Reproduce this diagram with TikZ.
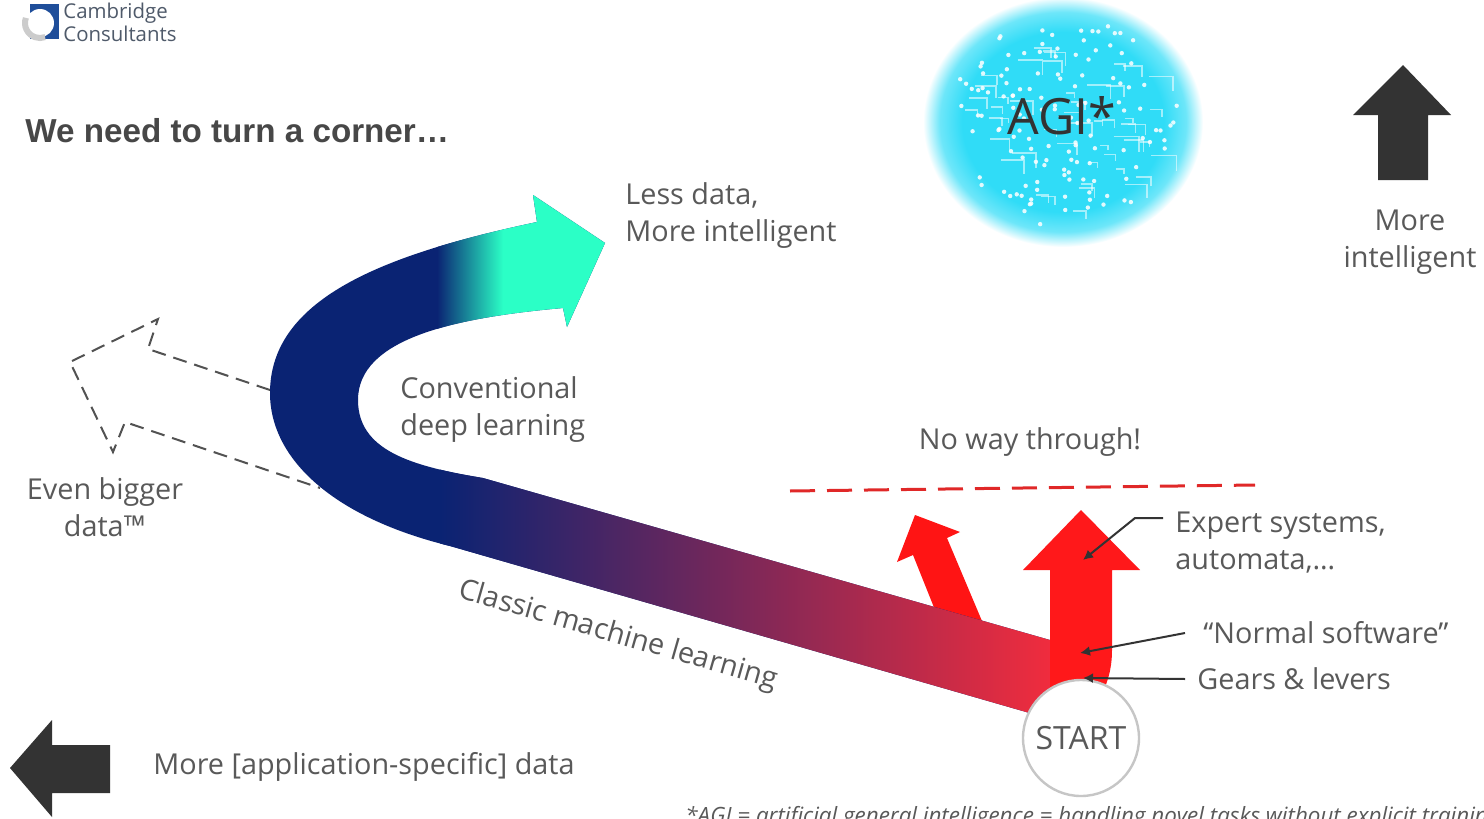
\documentclass[tikz,border=0pt]{standalone}
\usepackage{fontspec}
\setmainfont{Open Sans}
\newfontfamily\headfont{Liberation Sans}
\usetikzlibrary{arrows.meta,calc,positioning}
\definecolor{txt}{HTML}{595959}
\definecolor{ink}{HTML}{333333}
\definecolor{navy}{HTML}{0A2373}
\definecolor{mauve}{HTML}{6E2A63}
\definecolor{rose}{HTML}{FF2D3A}
\definecolor{aqua}{HTML}{2BFFC6}
\definecolor{hot}{HTML}{FF1414}
\definecolor{nogo}{HTML}{E02828}
\definecolor{agicyan}{HTML}{30DCF7}
\definecolor{logob}{HTML}{1F4E9A}
\definecolor{logot}{HTML}{4F5A6A}
\pgfdeclareradialshading{agiglow}{\pgfpoint{0bp}{0bp}}{color(0bp)=(agicyan); color(18bp)=(agicyan); color(22bp)=(agicyan!70); color(25bp)=(white)}

\begin{document}
\begin{tikzpicture}[x=0.5pt,y=-0.5pt,
  lbl/.style={text=txt,font=\fontsize{14.4}{18.5}\selectfont,inner sep=0pt,align=left},
  lblc/.style={lbl,align=center},
  ptr/.style={draw=ink,line width=1pt,-{Latex[length=5pt,width=5pt]}},
  outline/.style={draw=ink!85,line width=1pt,dash pattern=on 7pt off 4pt}]
  \clip (0,0) rectangle (1484,819);
  \fill[white] (0,0) rectangle (1484,819);

  \fill[logob] (30,4) rectangle (59,39);
  \fill[white] (40,23) circle (14);
  \draw[gray!40,line width=3pt] (25.9,17.9) arc (200:70:15);
  \node[anchor=north west,inner sep=0pt,align=left,text=logot,
    font=\fontsize{10.2}{9.8}\selectfont] (logo) at (63,3) {Cambridge\\Consultants};
  \node[anchor=west,inner sep=0pt,text=ink!90,
    font=\headfont\bfseries\fontsize{16.6}{20}\selectfont] (title) at (25,131) {We need to turn a corner…};

  \coordinate (agiC) at (1063,122);
  \shade[shading=agiglow] (agiC) ellipse (140 and 125);
  \pgfmathsetseed{11}
  \foreach \k in {1,...,130}{
    \pgfmathsetmacro\ang{360*rnd}
    \pgfmathsetmacro\rad{sqrt(rnd)}
    \fill[white,opacity=.85] ($(agiC)+(\ang:{118*\rad} and {105*\rad})$) circle (2.2);
  }
  \foreach \k in {1,...,50}{
    \pgfmathsetmacro\ang{360*rnd}
    \pgfmathsetmacro\rad{sqrt(rnd)}
    \pgfmathsetmacro\len{8+18*rnd}
    \draw[white,opacity=.55,line width=.8pt] ($(agiC)+(\ang:{100*\rad} and {90*\rad})$) -- ++(\len,0) -- ++(0,{\len*0.6});
  }
  \node[text=ink,inner sep=0pt,font=\fontsize{25}{30}\selectfont] (agi) at (1062,116) {AGI*};

  \fill[ink] (1378,180) -- (1378,115) -- (1353,115) -- (1403,65) -- (1451,115) -- (1428,115) -- (1428,180) -- cycle;
  \node[lblc] (smarter) at (1410,242) {More\\intelligent};
  \fill[ink] (110,745) -- (52,745) -- (52,720) -- (10,768) -- (52,817) -- (52,793) -- (110,793) -- cycle;
  \node[lbl,anchor=west] (moredata) at (153,767) {More [application-specific] data};

  \draw[outline] (270,390) -- (148,349) -- (158,319) -- (70,362) -- (113,452) -- (125,422) -- (320,488);
  \node[lblc] (bigger) at (105,507) {Even bigger\\data™};

  \fill[hot] (947,640) -- (913,555) -- (897,562) -- (915,515) -- (960,532) -- (947,538) -- (990,640) -- cycle;

  \begin{scope}
    \path[clip] (1040,716) -- (450,546) .. controls (335,518) and (270,460) .. (270,393)
      .. controls (270,300) and (380,255) .. (537,222) -- (533,195) -- (605,243) -- (567,327)
      -- (563,308) .. controls (450,318) and (358,340) .. (358,400)
      .. controls (358,450) and (410,466) .. (483,478) -- (1050,640) -- (1090,650) -- (1090,725) -- cycle;
    \fill[navy] (250,150) rectangle (1150,760);
    \shade[left color=navy,middle color=mauve,right color=rose] (440,380) rectangle (1090,760);
    \shade[left color=navy,right color=aqua] (437,170) rectangle (503,345);
    \fill[aqua] (503,170) rectangle (620,345);
  \end{scope}

  \fill[hot!85!rose] (1050,700) -- (1050,570) -- (1023,570) -- (1081,510) -- (1140,570) -- (1112,570)
    -- (1112,650) .. controls (1112,672) and (1106,688) .. (1096,705) -- cycle;
  \node[circle,draw=gray!45,line width=1.2pt,fill=white,minimum size=58pt,inner sep=0pt,
    text=txt,font=\fontsize{16}{18}\selectfont] (start) at (1081,738) {START};

  \draw[nogo,line width=1.5pt,dash pattern=on 12.5pt off 6pt] (790,491) -- (1255,485);
  \node[lblc] (noway) at (1030,442) {No way through!};

  \node[lbl,anchor=north west] (less) at (625,182) {Less data,\\More intelligent};
  \node[lbl,anchor=north west] (deep) at (400,376) {Conventional\\deep learning};
  \node[lbl,rotate=-16] (classic) at (618,636) {Classic machine learning};

  \node[lbl,anchor=north west] (expert) at (1175,512) {Expert systems,\\automata,…};
  \node[lbl,anchor=west] (normal) at (1203,633) {“Normal software”};
  \node[lbl,anchor=west] (gears) at (1197,679) {Gears \& levers};
  \coordinate (expertTip) at (1083,560);
  \coordinate (normalTip) at (1080,653);
  \coordinate (gearsTip) at (1083,678);
  \draw[ptr] ([shift={(-12,6)}]expert.north west) -- ++(-28,0) -- (expertTip);
  \draw[ptr] ([xshift=-9pt]normal.west) -- (normalTip);
  \draw[ptr] ([xshift=-6pt]gears.west) -- (gearsTip);

  \node[anchor=north west,inner sep=0pt,text=txt,font=\itshape\fontsize{11.2}{13}\selectfont] (foot)
    at (685,806) {*AGI = artificial general intelligence = handling novel tasks without explicit training};
\end{tikzpicture}
\end{document}
